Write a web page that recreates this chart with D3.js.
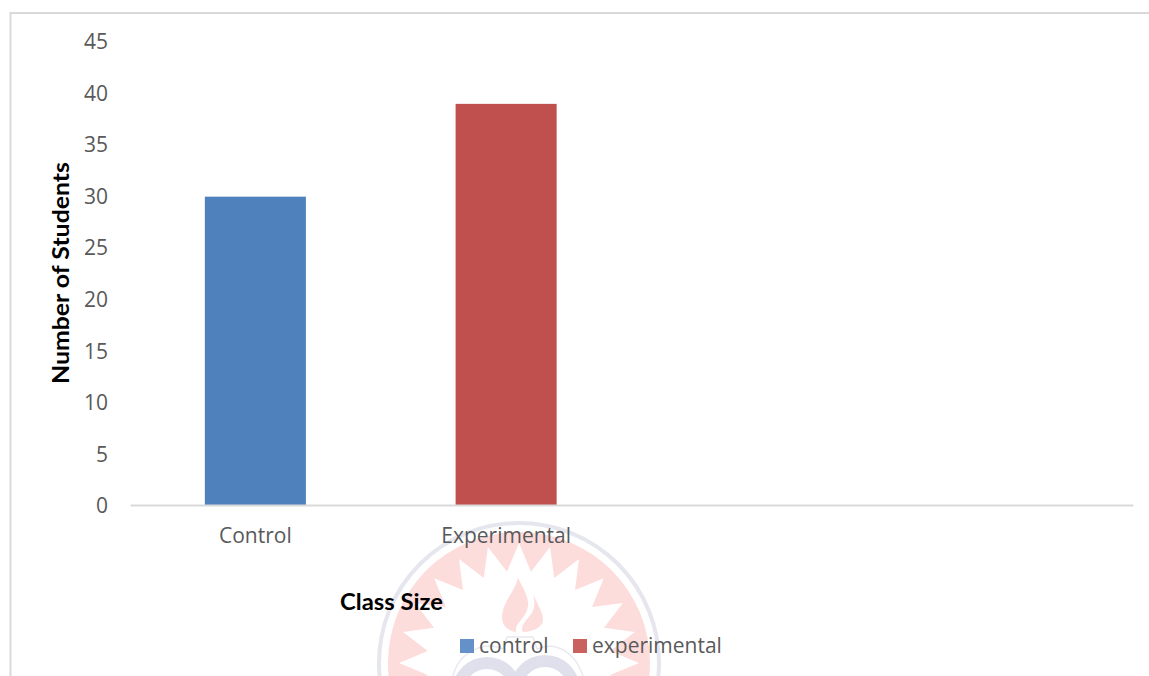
<!DOCTYPE html>
<html>
<head>
<meta charset="utf-8">
<script src="https://cdn.jsdelivr.net/npm/d3@7"></script>
<style>
  html, body { margin: 0; padding: 0; background: #fff; overflow: hidden; }
  svg { display: block; }
  .tick-label { font-family: "Open Sans", sans-serif; font-size: 21px; fill: #595959; }
  .axis-title { font-family: Lato, sans-serif; font-size: 23px; font-weight: 700; fill: #000; }
</style>
</head>
<body>
<div id="chart"></div>
<script>
'use strict';

const categories = ['Control', 'Experimental', '', ''];
const students = [30, 39];
const barColors = ['#4f81bd', '#c0504d'];
const yTicks = [0, 5, 10, 15, 20, 25, 30, 35, 40, 45];
const legendLabels = ['control', 'experimental'];
const legendColors = ['#6491c8', '#c9625f'];

const width = 1149;
const height = 676;
const plot = { left: 130, right: 1133, top: 42, bottom: 506 };
const baseline = 505;

const svg = d3.select('#chart').append('svg')
  .attr('width', width)
  .attr('height', height);

// Faint university seal that sits behind the chart
function drawWatermark() {
  const pink = '#fddcdc';
  const blue = '#e0e0ec';
  const g = svg.append('g').attr('transform', 'translate(519, 663)');
  g.append('circle').attr('r', 140).attr('fill', 'none')
    .attr('stroke', '#e6e6ef').attr('stroke-width', 4);
  g.append('circle').attr('r', 131).attr('fill', pink);
  // Starburst cut out of the red ring
  const spikes = 24;
  const star = d3.range(spikes * 2).map(i => [
    (i * Math.PI) / spikes,
    i % 2 === 0 ? 120 : 92
  ]);
  g.append('path')
    .attr('d', d3.lineRadial().curve(d3.curveLinearClosed)(star))
    .attr('fill', '#fff');
  // Flame, two tongues with a white curve between them
  g.append('path')
    .attr('d', 'M-1,-85 C-5,-70 -17,-60 -17,-45 C-17,-37 -10,-32 -3,-31 C-5,-40 8,-45 9,-57 C10,-66 4,-75 -1,-85 Z')
    .attr('fill', pink);
  g.append('path')
    .attr('d', 'M14,-70 C18,-58 24,-52 24,-43 C24,-36 14,-31 4,-31 C0,-37 8,-43 13,-50 C16,-56 16,-62 14,-70 Z')
    .attr('fill', pink);
  // Outlines under the flame
  g.append('path')
    .attr('d', 'M-16,-14 L-12,-26 L14,-26 L18,-14')
    .attr('fill', 'none').attr('stroke', '#e8e8f0').attr('stroke-width', 1.5);
  g.append('path')
    .attr('d', 'M-66,13 C-60,-12 -34,-22 -16,-14 M18,-14 C36,-22 56,-12 64,13')
    .attr('fill', 'none').attr('stroke', '#e8e8f0').attr('stroke-width', 1.5);
  // Two rings cut by the bottom of the picture
  g.append('circle').attr('cx', -32).attr('cy', 29).attr('r', 29)
    .attr('fill', 'none').attr('stroke', blue).attr('stroke-width', 12);
  g.append('circle').attr('cx', 26).attr('cy', 27).attr('r', 29)
    .attr('fill', 'none').attr('stroke', blue).attr('stroke-width', 12);
}

// Frame of the chart area, open on the right and at the bottom
function drawFrame() {
  svg.append('path')
    .attr('d', d3.line()([[10.5, height], [10.5, 13], [width, 13]]))
    .attr('fill', 'none')
    .attr('stroke', '#d9d9d9')
    .attr('stroke-width', 2);
}

function drawChart() {
  const x = d3.scaleBand()
    .domain(d3.range(categories.length))
    .range([plot.left, plot.right])
    .paddingInner(0.597)
    .paddingOuter(0.2985);

  const y = d3.scaleLinear()
    .domain([0, 45])
    .range([plot.bottom, plot.top]);

  svg.append('g').selectAll('rect')
    .data(students)
    .enter().append('rect')
    .attr('x', (d, i) => x(i))
    .attr('y', d => y(d))
    .attr('width', x.bandwidth())
    .attr('height', d => baseline - y(d))
    .attr('fill', (d, i) => barColors[i]);

  // Y axis: labels only, no domain line or ticks
  const yAxis = svg.append('g')
    .attr('transform', `translate(${plot.left}, 0)`)
    .call(d3.axisLeft(y).tickValues(yTicks).tickSize(0).tickPadding(22));
  yAxis.select('.domain').remove();
  yAxis.selectAll('text').attr('class', 'tick-label').attr('fill', null);

  // X axis: baseline and category labels
  const xAxis = svg.append('g')
    .attr('transform', `translate(0, ${baseline})`)
    .call(d3.axisBottom(x).tickFormat(i => categories[i]).tickSize(0).tickPadding(23));
  xAxis.select('.domain')
    .attr('stroke', '#d9d9d9')
    .attr('stroke-width', 2);
  xAxis.selectAll('text').attr('class', 'tick-label').attr('fill', null);
}

function drawTitles() {
  svg.append('text')
    .attr('class', 'axis-title')
    .attr('transform', 'translate(69, 273) rotate(-90)')
    .attr('text-anchor', 'middle')
    .attr('textLength', 222)
    .attr('lengthAdjust', 'spacingAndGlyphs')
    .text('Number of Students');

  svg.append('text')
    .attr('class', 'axis-title')
    .attr('x', 340)
    .attr('y', 610)
    .attr('textLength', 103)
    .attr('lengthAdjust', 'spacingAndGlyphs')
    .text('Class Size');
}

function drawLegend() {
  const positions = [460, 573];
  const item = svg.append('g').selectAll('g')
    .data(legendLabels)
    .enter().append('g')
    .attr('transform', (d, i) => `translate(${positions[i]}, 639)`);
  item.append('rect')
    .attr('width', 14)
    .attr('height', 14)
    .attr('fill', (d, i) => legendColors[i]);
  item.append('text')
    .attr('class', 'tick-label')
    .attr('x', 19)
    .attr('y', 14)
    .text(d => d);
}

drawWatermark();
drawFrame();
drawChart();
drawTitles();
drawLegend();
</script>
</body>
</html>
